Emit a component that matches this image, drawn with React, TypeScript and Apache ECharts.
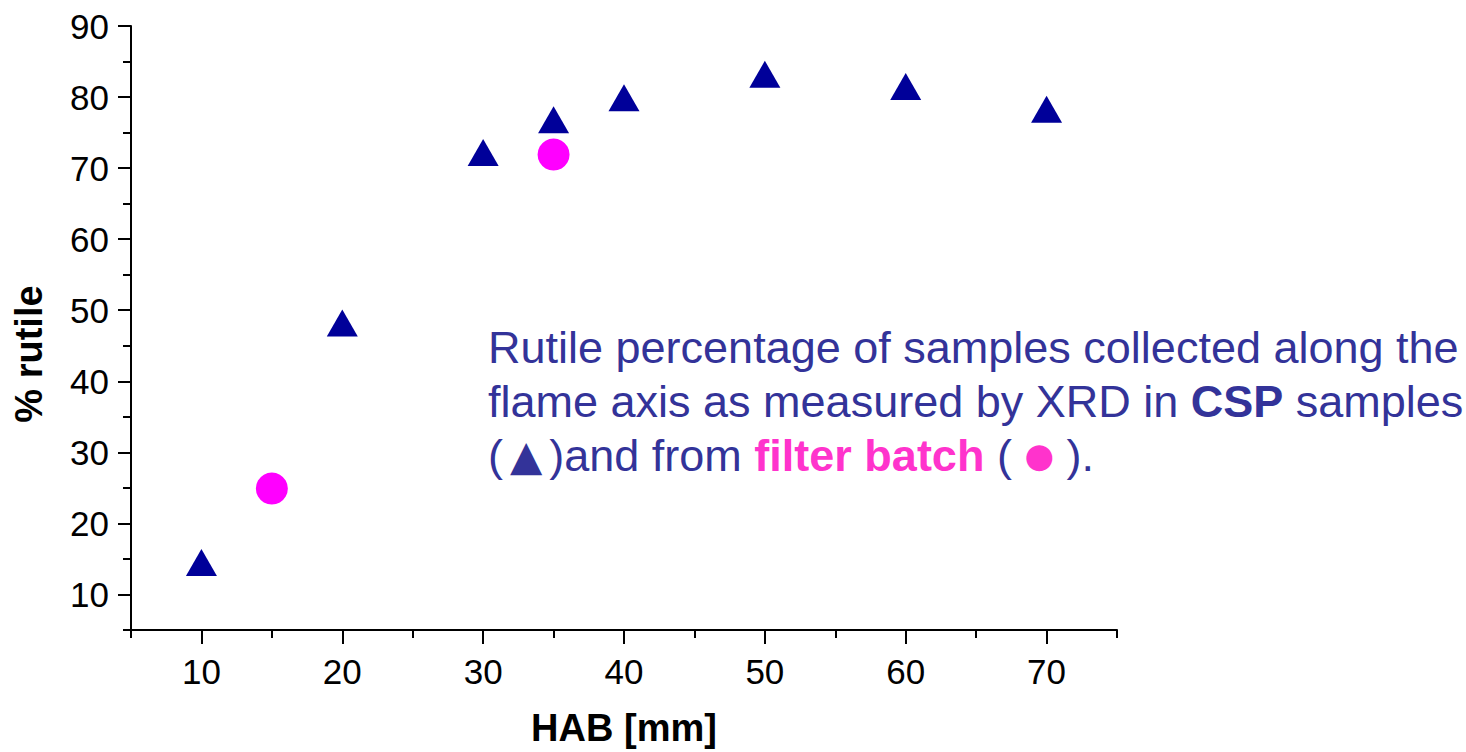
import React, { useEffect, useRef } from "react";
import * as echarts from "echarts";

// HAB [mm] and % rutile values
const cspHab = [10, 20, 30, 35, 40, 50, 60, 70];
const cspRutile = [14.5, 48.2, 72.2, 76.8, 79.9, 83.2, 81.5, 78.3];
const filterHab = [15, 35];
const filterRutile = [24.9, 71.9];

const xMajorTicks = [10, 20, 30, 40, 50, 60, 70];
const xMinorTicks = [5, 15, 25, 35, 45, 55, 65, 75];
const yMajorTicks = [10, 20, 30, 40, 50, 60, 70, 80, 90];
const yMinorTicks = [5, 15, 25, 35, 45, 55, 65, 75, 85];

const FONT = "'Liberation Sans', Arial, Helvetica, sans-serif";

export default function App() {
  const ref = useRef<HTMLDivElement>(null);

  useEffect(() => {
    if (!ref.current) return;
    const chart = echarts.init(ref.current, undefined, { renderer: "svg" });
    const axisLine = { show: true, lineStyle: { color: "#000", width: 2 } };
    const option = {
      animation: false,
      backgroundColor: "#fff",
      grid: { left: 131, right: 349, top: 26, bottom: 120, containLabel: false },
      xAxis: [
        {
          type: "value",
          min: 5,
          max: 75,
          position: "bottom",
          axisLine,
          axisTick: { show: true, customValues: xMajorTicks, length: 14, inside: false, lineStyle: { color: "#000", width: 2 } },
          axisLabel: { customValues: xMajorTicks, fontFamily: FONT, fontSize: 35, color: "#000", margin: 24 },
          splitLine: { show: false },
          name: "HAB [mm]",
          nameLocation: "middle",
          nameGap: 79,
          nameTextStyle: { fontFamily: FONT, fontSize: 38, fontWeight: "bold", color: "#000" },
        },
        {
          type: "value",
          min: 5,
          max: 75,
          position: "bottom",
          axisLine: { show: false },
          axisTick: { show: true, customValues: xMinorTicks, length: 8, inside: false, lineStyle: { color: "#000", width: 2 } },
          axisLabel: { show: false },
          splitLine: { show: false },
        },
      ],
      yAxis: [
        {
          type: "value",
          min: 5,
          max: 90,
          position: "left",
          axisLine,
          axisTick: { show: true, customValues: yMajorTicks, length: 13, inside: false, lineStyle: { color: "#000", width: 2 } },
          axisLabel: { customValues: yMajorTicks, fontFamily: FONT, fontSize: 35, color: "#000", margin: 22 },
          splitLine: { show: false },
        },
        {
          type: "value",
          min: 5,
          max: 90,
          position: "left",
          axisLine: { show: false },
          axisTick: { show: true, customValues: yMinorTicks, length: 8, inside: false, lineStyle: { color: "#000", width: 2 } },
          axisLabel: { show: false },
          splitLine: { show: false },
        },
      ],
      series: [
        {
          name: "CSP",
          type: "scatter",
          symbol: "triangle",
          symbolSize: [31, 27],
          itemStyle: { color: "#000099", opacity: 1 },
          data: cspHab.map((x, i) => [x, cspRutile[i]]),
          z: 3,
        },
        {
          name: "filter batch",
          type: "scatter",
          symbol: "circle",
          symbolSize: 32,
          itemStyle: { color: "#FF00FF", opacity: 1 },
          data: filterHab.map((x, i) => [x, filterRutile[i]]),
          z: 2,
        },
      ],
      graphic: [
        {
          type: "text",
          x: 29,
          y: 354,
          rotation: Math.PI / 2,
          style: {
            text: "% rutile",
            font: `bold 38px ${FONT}`,
            fill: "#000",
            align: "center",
            verticalAlign: "middle",
          },
        },
        {
          type: "text",
          left: 488,
          top: 320,
          style: {
            text:
              "{n|Rutile percentage of samples collected along the}\n" +
              "{n|flame axis as measured by XRD in }{b|CSP}{n| samples}\n" +
              "{n|(}{t|▲}{n|)and from }{p|filter batch}{n| ( }{c|●}{n| ).}",
            fontFamily: FONT,
            fontSize: 45,
            lineHeight: 54,
            fill: "#333399",
            rich: {
              n: { fontFamily: FONT, fontSize: 45, lineHeight: 54, fill: "#333399" },
              b: { fontFamily: FONT, fontSize: 45, lineHeight: 54, fontWeight: "bold", fill: "#333399" },
              p: { fontFamily: FONT, fontSize: 45, lineHeight: 54, fontWeight: "bold", fill: "#FF33CC" },
              t: { fontFamily: "'DejaVu Sans', sans-serif", fontSize: 42, lineHeight: 54, padding: [0, 7], fill: "#333399" },
              c: { fontFamily: "'DejaVu Sans', sans-serif", fontSize: 34, lineHeight: 54, fill: "#FF33CC" },
            },
          },
        },
      ],
    };
    chart.setOption(option as any);
    return () => chart.dispose();
  }, []);

  return (
    <div
      ref={ref}
      style={{ position: "fixed", left: 0, top: 0, width: 1466, height: 752, background: "#fff" }}
    />
  );
}
